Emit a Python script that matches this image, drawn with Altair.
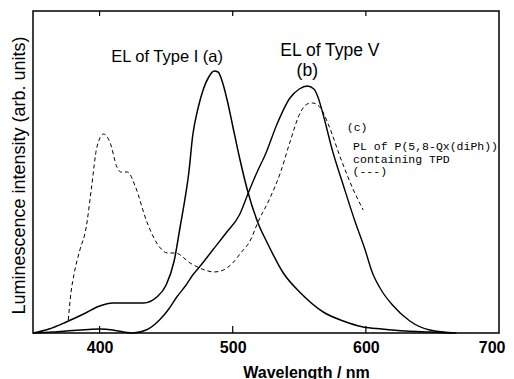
import altair as alt
import pandas as pd

# Curve (a): EL of Type I (solid)
wl_a = [350, 362, 375, 388, 400, 410, 422, 433, 443, 450, 456, 461, 464, 467, 470, 474, 478, 482,
        486, 489, 492, 496, 500, 505, 511, 519, 526, 538, 551, 568, 583, 598, 612, 630, 648, 665]
int_a = [0, 4, 11, 19, 27, 30, 30, 30, 36, 48, 72, 110, 133, 160, 198, 225, 244, 256,
         262, 261, 252, 232, 207, 176, 143, 110, 90, 60, 40, 21, 12, 6, 4, 2, 1, 0]

# Curve (b): EL of Type V (solid)
wl_b = [350, 365, 380, 392, 400, 410, 418, 425, 435, 445, 452, 458, 465, 470, 475, 485, 495, 505,
        512, 518, 525, 533, 543, 550, 556, 561, 564, 568, 575, 583, 592, 599, 605, 612, 620, 633, 648, 668]
int_b = [0, 1, 2.5, 3.5, 4, 3, 1, 0, 3, 13, 24, 36, 48, 58, 66, 83, 100, 118,
         141, 160, 180, 208, 235, 244, 247, 244, 236, 218, 182, 148, 111, 85, 60, 42, 28, 12, 3, 0]

# Curve (c): PL of P(5,8-Qx(diPh)) containing TPD (dashed)
wl_c = [376.5, 378.5, 381, 385, 390, 394, 398, 403, 408, 413, 416, 421, 427, 435, 445, 451, 457,
        468, 477, 486, 493, 500, 506, 513, 519, 528, 536, 543, 551, 556, 560, 566, 572, 581, 590, 598]
int_c = [13, 40, 60, 82, 106, 146, 186, 199, 190, 166, 161, 161, 146, 113, 86, 80, 80,
         70, 64, 61, 63, 70, 80, 92, 111, 135, 161, 191, 221, 229, 230, 225, 208, 175, 145, 123]

x_ticks = [400, 500, 600, 700]
inner_ticks = [400, 500, 600]

big_text = ["EL of Type V", "(b)"]
big_x = [573, 556]
big_y = [282, 262]

small_text = ["EL of Type I (a)"]
small_x = [450.7]
small_y = [276]

mono_text = ["(c)", "PL of P(5,8-Qx(diPh))", "containing TPD", "(---)"]
mono_x = [585.7, 590.4, 590.4, 590.0]
mono_y = [205, 186, 173, 161]

df_a = pd.DataFrame({"wl": wl_a, "I": int_a})
df_b = pd.DataFrame({"wl": wl_b, "I": int_b})
df_c = pd.DataFrame({"wl": wl_c, "I": int_c})
df_t = pd.DataFrame({"wl": inner_ticks})
df_big = pd.DataFrame({"wl": big_x, "I": big_y, "s": big_text})
df_small = pd.DataFrame({"wl": small_x, "I": small_y, "s": small_text})
df_mono = pd.DataFrame({"wl": mono_x, "I": mono_y, "s": mono_text})

xs = alt.Scale(domain=[350, 700], nice=False, zero=False)
ys = alt.Scale(domain=[0, 322], nice=False, zero=False)

x_axis = alt.Axis(values=x_ticks, title="Wavelength / nm", grid=False, domain=False,
                  ticks=False, tickSize=0, labelPadding=6, labelFlush=True, labelFlushOffset=6,
                  labelFont="Liberation Sans", labelFontSize=16, labelFontWeight="bold",
                  labelColor="black", format="d",
                  titleFont="Liberation Sans", titleFontSize=16, titleFontWeight="bold",
                  titleColor="black", titleX=273, titleY=39, titleBaseline="middle",
                  titleAlign="center")
y_axis = alt.Axis(title="Luminescence intensity (arb. units)", labels=False, ticks=False,
                  domain=False, grid=False, titleFont="Liberation Sans", titleFontSize=18,
                  titleFontWeight="normal", titleColor="black", titleX=-14, titleY=164,
                  titleAngle=270, titleBaseline="middle", titleAlign="center")

X = alt.X("wl:Q", scale=xs, axis=x_axis)
Y = alt.Y("I:Q", scale=ys, axis=y_axis)

line_a = alt.Chart(df_a).mark_line(color="black", strokeWidth=1.5, interpolate="monotone").encode(x=X, y=Y)
line_b = alt.Chart(df_b).mark_line(color="black", strokeWidth=1.4, interpolate="monotone").encode(x=X, y=Y)
line_c = alt.Chart(df_c).mark_line(color="black", strokeWidth=1.0, strokeDash=[4, 3],
                                   interpolate="monotone").encode(x=X, y=Y)

top_ticks = alt.Chart(df_t).mark_rule(color="black", strokeWidth=1.2).encode(
    x=X, y=alt.value(0), y2=alt.value(5))
bottom_ticks = alt.Chart(df_t).mark_rule(color="black", strokeWidth=1.2).encode(
    x=X, y=alt.value(322), y2=alt.value(315))

txt_big = alt.Chart(df_big).mark_text(font="Liberation Sans", fontSize=17.5, color="black",
                                      align="center", baseline="middle").encode(x=X, y=Y, text="s:N")
txt_small = alt.Chart(df_small).mark_text(font="Liberation Sans", fontSize=16.5, color="black",
                                          align="center", baseline="middle").encode(x=X, y=Y, text="s:N")
txt_mono = alt.Chart(df_mono).mark_text(font="Liberation Mono", fontSize=11.5, color="black",
                                        align="left", baseline="middle").encode(x=X, y=Y, text="s:N")

chart = alt.layer(line_a, line_b, line_c, top_ticks, bottom_ticks, txt_big, txt_small, txt_mono).properties(
    width=466, height=322,
    autosize=alt.AutoSizeParams(type="none"),
    padding={"left": 25, "top": 3, "right": 7, "bottom": 46},
    background="white",
).configure_view(stroke="black", strokeWidth=1.5)

chart.save("out.html", embed_options={"renderer": "svg", "actions": False})
